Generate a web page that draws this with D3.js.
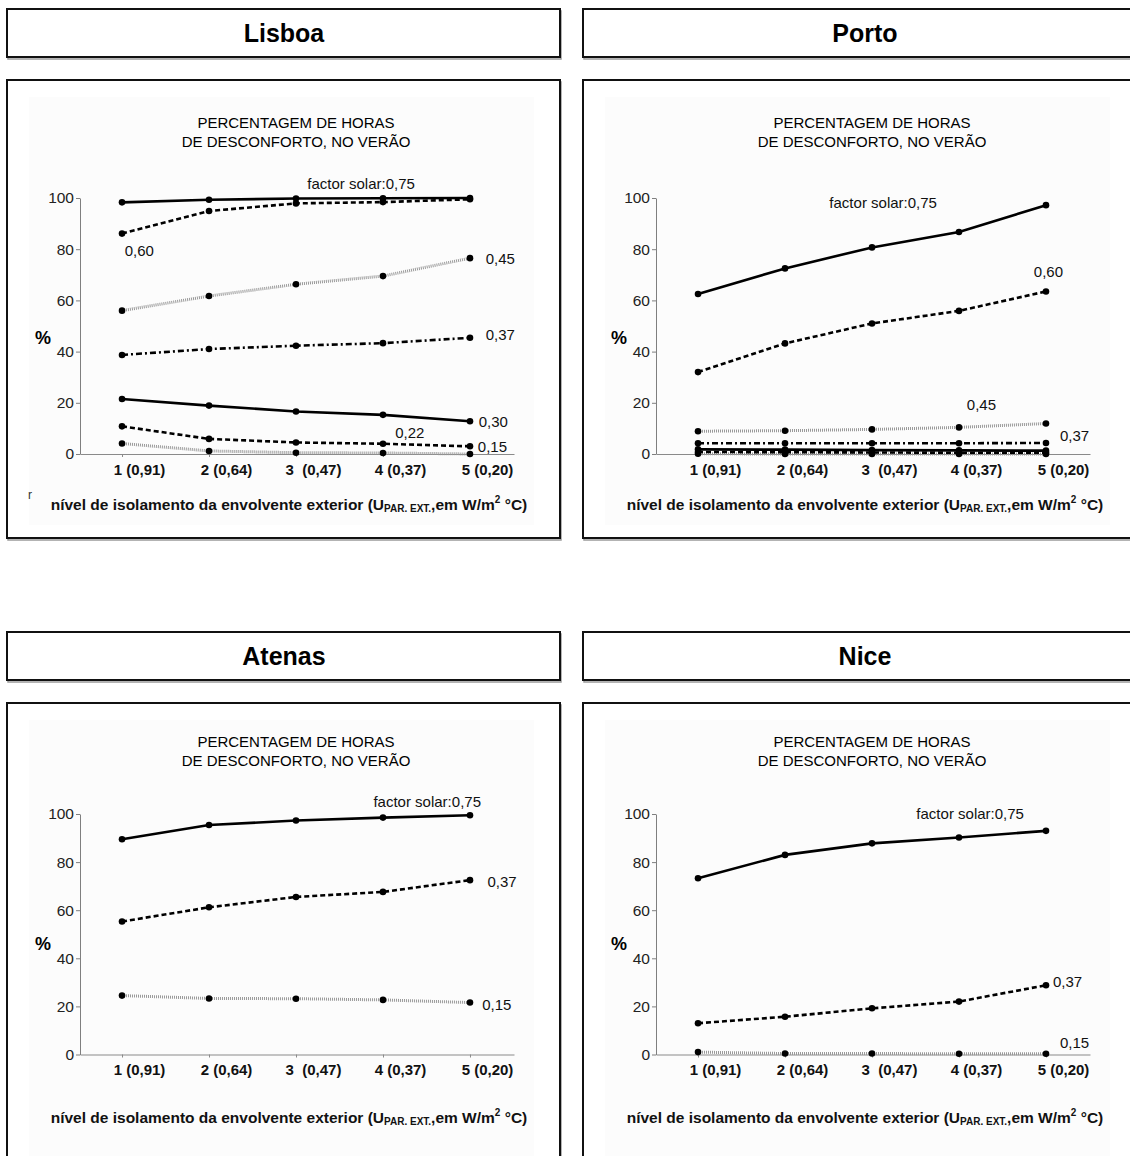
<!DOCTYPE html>
<html><head><meta charset="utf-8">
<script src="https://cdn.jsdelivr.net/npm/d3@7"></script>
<style>
html,body{margin:0;padding:0;background:#fff;}
svg{display:block;font-family:"Liberation Sans",Arial,sans-serif;}
</style></head>
<body><svg id="c" width="1130" height="1156"></svg>
<script>
// ---- data ----
const cities = ["Lisboa", "Porto", "Atenas", "Nice"];
const categories = ["1 (0,91)", "2 (0,64)", "3  (0,47)", "4 (0,37)", "5 (0,20)"];
const yTicks = [0, 20, 40, 60, 80, 100];
const subtitleLines = ["PERCENTAGEM DE HORAS", "DE DESCONFORTO, NO VERÃO"];

const lisboa075 = [98.3, 99.3, 99.8, 99.9, 100];
const lisboa060 = [86.1, 94.9, 97.9, 98.4, 99.5];
const lisboa045 = [56.0, 61.7, 66.3, 69.5, 76.5];
const lisboa037 = [38.7, 41.0, 42.3, 43.3, 45.4];
const lisboa030 = [21.5, 18.9, 16.6, 15.3, 12.8];
const lisboa022 = [10.8, 5.9, 4.5, 4.0, 3.0];
const lisboa015 = [4.1, 1.2, 0.5, 0.4, 0.0];

const porto075 = [62.5, 72.5, 80.7, 86.7, 97.2];
const porto060 = [32.0, 43.2, 51.0, 55.9, 63.5];
const porto045 = [8.9, 9.1, 9.6, 10.4, 11.9];
const porto037 = [4.2, 4.2, 4.2, 4.2, 4.3];
const porto030 = [1.8, 1.7, 1.5, 1.4, 1.3];
const porto022 = [0.8, 0.7, 0.6, 0.5, 0.5];
const porto015 = [0.1, 0.0, 0.0, 0.0, 0.0];

const atenas075 = [89.5, 95.4, 97.3, 98.5, 99.5];
const atenas037 = [55.3, 61.2, 65.5, 67.6, 72.5];
const atenas015 = [24.5, 23.3, 23.2, 22.7, 21.6];

const nice075 = [73.3, 83.0, 87.8, 90.2, 93.0];
const nice037 = [13.0, 15.7, 19.2, 22.0, 28.8];
const nice015 = [1.0, 0.4, 0.4, 0.3, 0.3];

// ---- styles ----
const STY = {
  solid:   {stroke:"#000", w:2.6, dash:null},
  dashed:  {stroke:"#000", w:2.6, dash:"5,3"},
  dotted:  {stroke:"#999", w:3, dash:"1,1"},
  dashdot: {stroke:"#000", w:2.6, dash:"6,3,2,3"}
};

// label anchors in data coordinates (category index, value)
const panels = [
  {city:cities[0], col:0, row:0, series:[
    {v:lisboa015, s:"dotted"}, {v:lisboa022, s:"dashed"}, {v:lisboa030, s:"solid"},
    {v:lisboa037, s:"dashdot"}, {v:lisboa045, s:"dotted"}, {v:lisboa060, s:"dashed"}, {v:lisboa075, s:"solid"}],
   labels:[["factor solar:0,75",2.13,105.6],["0,60",0.03,79.3],["0,45",4.18,76.2],["0,37",4.18,46.5],
           ["0,30",4.10,12.7],["0,22",3.14,8.2],["0,15",4.09,2.7]], stray:true},
  {city:cities[1], col:1, row:0, series:[
    {v:porto015, s:"dotted"}, {v:porto022, s:"dashed"}, {v:porto030, s:"solid"},
    {v:porto037, s:"dashdot"}, {v:porto045, s:"dotted"}, {v:porto060, s:"dashed"}, {v:porto075, s:"solid"}],
   labels:[["factor solar:0,75",1.51,98.0],["0,60",3.86,71.2],["0,45",3.09,19.3],["0,37",4.16,7.0]]},
  {city:cities[2], col:0, row:1, series:[
    {v:atenas015, s:"dotted"}, {v:atenas037, s:"dashed"}, {v:atenas075, s:"solid"}],
   labels:[["factor solar:0,75",2.89,105],["0,37",4.20,71.9],["0,15",4.14,20.7]]},
  {city:cities[3], col:1, row:1, series:[
    {v:nice015, s:"dotted"}, {v:nice037, s:"dashed"}, {v:nice075, s:"solid"}],
   labels:[["factor solar:0,75",2.51,100],["0,37",4.08,30.3],["0,15",4.16,4.9]]}
];

const svg = d3.select("#c");
const colX = [7, 583];
const rowY = [9, 632];

panels.forEach(p => {
  const ox = colX[p.col], oy = rowY[p.row];
  const g = svg.append("g");
  const bw = 553;
  // title box
  g.append("rect").attr("x", ox+1).attr("y", oy+2).attr("width", bw).attr("height", 48)
    .attr("fill","none").attr("stroke","#9a9a9a").attr("stroke-width",1.5);
  g.append("rect").attr("x", ox).attr("y", oy).attr("width", bw).attr("height", 48)
    .attr("fill","#fff").attr("stroke","#111").attr("stroke-width",2);
  g.append("text").attr("x", ox + 277 + (p.col ? 5 : 0)).attr("y", oy + 33)
    .attr("text-anchor","middle").attr("font-size",25).attr("font-weight","bold").text(p.city);

  // chart box
  const py = oy + 71;
  const ph = p.row === 0 ? 458 : 520;
  g.append("rect").attr("x", ox+1).attr("y", py+2).attr("width", bw).attr("height", ph)
    .attr("fill","none").attr("stroke","#9a9a9a").attr("stroke-width",1.5);
  g.append("rect").attr("x", ox).attr("y", py).attr("width", bw).attr("height", ph)
    .attr("fill","#fff").attr("stroke","#111").attr("stroke-width",2);
  g.append("rect").attr("x", ox+22).attr("y", py+17).attr("width", 505).attr("height", ph-30)
    .attr("fill","#fcfcfc");

  // scales
  const y0 = p.row === 0 ? 454 : 1054.5;
  const y100 = p.row === 0 ? 198 : 814;
  const x = d3.scaleLinear().domain([-0.483, 4.506]).range([ox + 73, ox + 507]);
  const y = d3.scaleLinear().domain([0, 100]).range([y0, y100]);

  // subtitle
  subtitleLines.forEach((t, i) => {
    g.append("text").attr("x", ox + 289).attr("y", (p.row === 0 ? 128 : 747) + i*19)
      .attr("text-anchor","middle").attr("font-size",15).attr("fill","#000").text(t);
  });

  // axes
  const yAx = g.append("g").attr("transform", `translate(${x.range()[0]},0)`)
    .call(d3.axisLeft(y).tickValues(yTicks).tickSize(4).tickSizeOuter(0).tickPadding(2));
  yAx.selectAll("path,line").attr("stroke","#7f7f7f");
  yAx.selectAll("text").attr("font-size",15.5).attr("fill","#222").attr("font-family","Liberation Sans, Arial, sans-serif");

  const xAx = g.append("g").attr("transform", `translate(0,${y0})`)
    .call(d3.axisBottom(x).tickValues([0,1,2,3,4]).tickFormat(i => categories[i]).tickSize(3).tickSizeOuter(0).tickPadding(7));
  xAx.selectAll("path,line").attr("stroke","#8a8a8a");
  xAx.selectAll("text").attr("font-size",15).attr("font-weight","bold").attr("fill","#111")
    .attr("dx", 17).attr("xml:space","preserve").style("white-space","pre")
    .attr("font-family","Liberation Sans, Arial, sans-serif");

  // % label
  g.append("text").attr("x", ox + 28).attr("y", y(40) - 8).attr("font-size",18).attr("font-weight","bold").text("%");

  // x title
  const tt = g.append("text").attr("x", ox + 282).attr("y", p.row === 0 ? 510 : 1123)
    .attr("text-anchor","middle").attr("font-size",15.5).attr("font-weight","bold").attr("fill","#111");
  tt.append("tspan").text("nível de isolamento da envolvente exterior (U");
  tt.append("tspan").attr("font-size",10).attr("dy",2).text("PAR. EXT.");
  tt.append("tspan").attr("dy",-2).text(",em W/m");
  tt.append("tspan").attr("font-size",10).attr("dy",-7).text("2");
  tt.append("tspan").attr("dy",7).text(" °C)");

  if (p.stray) {
    g.append("text").attr("x", ox + 21).attr("y", 499).attr("font-size",12).attr("fill","#333").text("r");
  }

  // series
  const line = d3.line().x((d,i) => x(i)).y(d => y(d));
  p.series.forEach(s => {
    const st = STY[s.s];
    g.append("path").attr("d", line(s.v)).attr("fill","none")
      .attr("stroke", st.stroke).attr("stroke-width", st.w)
      .attr("stroke-dasharray", st.dash);
    g.selectAll(null).data(s.v).enter().append("circle")
      .attr("cx",(d,i)=>x(i)).attr("cy",d=>y(d)).attr("r",3.3).attr("fill","#000");
  });

  // labels
  p.labels.forEach(([t, xi, v]) => {
    g.append("text").attr("x", x(xi)).attr("y", y(v)).attr("dy","0.35em")
      .attr("font-size",15).attr("fill","#111").text(t);
  });
});
</script></body></html>
